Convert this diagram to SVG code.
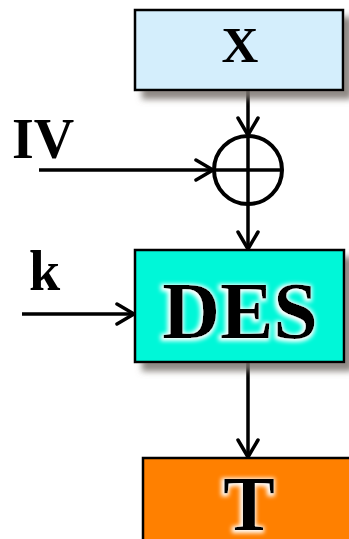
<svg xmlns="http://www.w3.org/2000/svg" width="349" height="539" viewBox="0 0 349 539">
<style>
.box{stroke:#000;stroke-width:2.5}
.lbl{font-family:"Liberation Serif","Times New Roman",serif;font-weight:bold;fill:#000}
.ln{stroke:#000;stroke-width:3.5;fill:none}
</style>
<defs>
<filter id="sh" x="-10%" y="-10%" width="130%" height="140%">
<feDropShadow dx="8" dy="8" stdDeviation="3" flood-color="#7a746e" flood-opacity="0.85"/>
</filter>
<filter id="glow" x="-20%" y="-20%" width="140%" height="140%">
<feMorphology in="SourceAlpha" operator="dilate" radius="1.5" result="d"/>
<feGaussianBlur in="d" stdDeviation="2" result="b"/>
<feFlood flood-color="#fff"/>
<feComposite in2="b" operator="in" result="w"/>
<feOffset in="w" dx="-1" dy="1" result="wo"/>
<feMerge><feMergeNode in="wo"/><feMergeNode in="SourceGraphic"/></feMerge>
</filter>
<marker id="ar" viewBox="0 0 22 24" refX="20" refY="12" markerWidth="22" markerHeight="24" markerUnits="userSpaceOnUse" orient="auto">
<path d="M3,2 L20,12 L3,22" fill="none" stroke="#000" stroke-width="3.5" stroke-linecap="round" stroke-linejoin="round"/>
</marker>
</defs>
<g id="connectors">
<line class="ln" x1="248" y1="90" x2="248" y2="135" marker-end="url(#ar)"/>
<line class="ln" x1="39" y1="170" x2="213" y2="170" marker-end="url(#ar)"/>
<line class="ln" x1="248" y1="205" x2="248" y2="249" marker-end="url(#ar)"/>
<line class="ln" x1="22" y1="314" x2="134" y2="314" marker-end="url(#ar)"/>
<line class="ln" x1="248" y1="362" x2="248" y2="457" marker-end="url(#ar)"/>
</g>
<g id="node-X">
<rect class="box" x="135" y="10" width="208" height="80" fill="#d4eefc" filter="url(#sh)"/>
<text class="lbl" x="240" y="62" font-size="51" text-anchor="middle">X</text>
</g>
<g id="node-xor">
<circle cx="248" cy="170" r="34" fill="none" stroke="#000" stroke-width="4"/>
<line x1="214" y1="170" x2="282" y2="170" stroke="#000" stroke-width="3.5"/>
<line x1="248" y1="136" x2="248" y2="204" stroke="#000" stroke-width="3.5"/>
</g>
<g id="label-IV">
<text class="lbl" x="12" y="158" font-size="56">IV</text>
</g>
<g id="label-k">
<text class="lbl" x="29" y="290" font-size="56">k</text>
</g>
<g id="node-DES">
<rect class="box" x="135" y="250" width="209" height="112" fill="#00f7d8" filter="url(#sh)"/>
<text class="lbl" x="240" y="338" font-size="80" text-anchor="middle" filter="url(#glow)">DES</text>
</g>
<g id="node-T">
<rect class="box" x="143" y="458" width="220" height="90" fill="#ff8000"/>
<text class="lbl" x="249" y="530" font-size="78" text-anchor="middle" filter="url(#glow)">T</text>
</g>
</svg>
